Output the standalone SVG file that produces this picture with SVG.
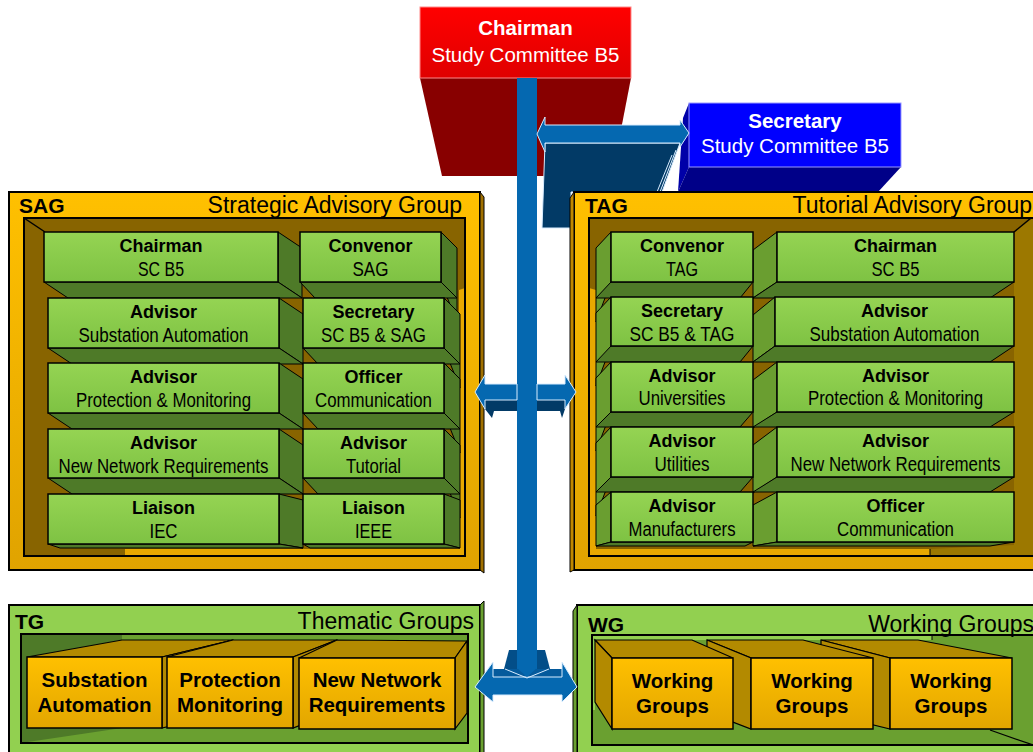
<svg xmlns="http://www.w3.org/2000/svg" width="1033" height="752" viewBox="0 0 1033 752">
<defs>
<linearGradient id="gOr" x1="0" y1="0" x2="0" y2="1"><stop offset="0" stop-color="#ffc000"/><stop offset="1" stop-color="#e0a300"/></linearGradient>
<linearGradient id="gGr" x1="0" y1="0" x2="0" y2="1"><stop offset="0" stop-color="#95d453"/><stop offset="1" stop-color="#7ec243"/></linearGradient>
<linearGradient id="gRed" x1="0" y1="0" x2="0" y2="1"><stop offset="0" stop-color="#ff0000"/><stop offset="1" stop-color="#e00000"/></linearGradient>
<linearGradient id="gBox" x1="0" y1="0" x2="0" y2="1"><stop offset="0" stop-color="#ffc000"/><stop offset="1" stop-color="#e2a600"/></linearGradient>
</defs>
<style>
.bt{font-family:"Liberation Sans",Arial,sans-serif;font-weight:bold;font-size:18px;text-anchor:middle;fill:#000}
.rt{font-family:"Liberation Sans",Arial,sans-serif;font-size:19.5px;text-anchor:middle;fill:#000}
.gb{fill:url(#gGr);stroke:#000;stroke-width:1.5}
.gd{fill:#4e7a28;stroke:#000;stroke-width:1}
.gm{fill:#6a9e30;stroke:#000;stroke-width:1}
.ttl{font-family:"Liberation Sans",Arial,sans-serif;font-size:23px;fill:#000}
.ttb{font-family:"Liberation Sans",Arial,sans-serif;font-size:21px;font-weight:bold;fill:#000}
.ob{fill:url(#gBox);stroke:#000;stroke-width:1.5}
.od{fill:#b38a00;stroke:#000;stroke-width:1.2}
.obt{font-family:"Liberation Sans",Arial,sans-serif;font-size:20.5px;font-weight:bold;text-anchor:middle;fill:#000}
.wt{font-family:"Liberation Sans",Arial,sans-serif;font-size:20.5px;text-anchor:middle;fill:#fff}
.wb{font-weight:bold}
.arr{fill:#0568b0;stroke:#d8ecff;stroke-width:1}
.arrd{fill:#023a66}
.fr{fill:none;stroke:#000;stroke-width:2}
</style>

<g id="chairman">
<polygon points="420,78 631,78 612,176 442,176" fill="#880000"/>
<rect x="420" y="7" width="211" height="71" fill="url(#gRed)" stroke="#ff8a8a"/>
<text class="wt wb" x="525.5" y="35">Chairman</text>
<text class="wt" x="525.5" y="62">Study Committee B5</text>
</g>

<g id="secretary">
<polygon points="689,103 683,118 678,192 689,167" fill="#0000a8"/>
<polygon points="689,167 901,167 878,192 678,192" fill="#000088"/>
<rect x="689" y="103" width="212" height="64" fill="#0000ff" stroke="#9a9aff"/>
<text class="wt wb" x="795" y="128">Secretary</text>
<text class="wt" x="795" y="153">Study Committee B5</text>
</g>

<g id="secretary-arrow-depth">
<polygon points="545,143 680,143 662,192 571,192 571,228 542,228" fill="#023a66" stroke="#d8ecff" stroke-width="1"/>
<line x1="676" y1="150" x2="660" y2="192" stroke="#d8ecff" stroke-width="1"/>
<line x1="672" y1="155" x2="657" y2="192" stroke="#d8ecff" stroke-width="1"/>
</g>

<g id="sag">
<rect x="9" y="192" width="471" height="378" fill="url(#gOr)" stroke="#000" stroke-width="2"/>
<polygon points="480,192 484,197 484,573 480,570" fill="#a07000" stroke="#000"/>
<rect x="24" y="218" width="441" height="338" fill="#886400"/>
<polygon points="459,290 465,288 465,556 125,556 125,549 459,549" fill="#e8a800"/>
<rect class="fr" x="24" y="218" width="441" height="338"/>
<line x1="24" y1="218" x2="45" y2="232" stroke="#000" stroke-width="1.5"/>
<text class="ttb" x="19" y="213">SAG</text>
<text class="ttl" x="462" y="213" text-anchor="end">Strategic Advisory Group</text>

<g id="sag-chairman">
<polygon class="gd" points="278,232 302,248 302,298 278,282"/>
<polygon class="gd" points="44,282 278,282 302,298 68,298"/>
<rect class="gb" x="44" y="232" width="234" height="50"/>
<text class="bt" x="161" y="252">Chairman</text>
<text class="rt" x="161" y="276" textLength="46" lengthAdjust="spacingAndGlyphs">SC B5</text>
</g>
<g id="sag-convenor">
<polygon class="gd" points="441,232 457,248 457,322 441,282"/>
<polygon class="gd" points="300,282 441,282 457,298 315,298"/>
<rect class="gb" x="300" y="232" width="141" height="50"/>
<text class="bt" x="370.5" y="252">Convenor</text>
<text class="rt" x="370.5" y="276" textLength="36" lengthAdjust="spacingAndGlyphs">SAG</text>
</g>
<g id="sag-advisor-sa">
<polygon class="gd" points="279,298 303,314 303,364 279,348"/>
<polygon class="gd" points="48,348 279,348 303,364 72,364"/>
<rect class="gb" x="48" y="298" width="231" height="50"/>
<text class="bt" x="163.5" y="318">Advisor</text>
<text class="rt" x="163.5" y="342" textLength="170" lengthAdjust="spacingAndGlyphs">Substation Automation</text>
</g>
<g id="sag-secretary">
<polygon class="gd" points="444,298 460,314 460,388 444,348"/>
<polygon class="gd" points="303,348 444,348 460,364 318,364"/>
<rect class="gb" x="303" y="298" width="141" height="50"/>
<text class="bt" x="373.5" y="318">Secretary</text>
<text class="rt" x="373.5" y="342" textLength="105" lengthAdjust="spacingAndGlyphs">SC B5 &amp; SAG</text>
</g>
<g id="sag-advisor-pm">
<polygon class="gd" points="279,363 303,379 303,429 279,413"/>
<polygon class="gd" points="48,413 279,413 303,429 72,429"/>
<rect class="gb" x="48" y="363" width="231" height="50"/>
<text class="bt" x="163.5" y="383">Advisor</text>
<text class="rt" x="163.5" y="407" textLength="175" lengthAdjust="spacingAndGlyphs">Protection &amp; Monitoring</text>
</g>
<g id="sag-officer">
<polygon class="gd" points="444,363 460,379 460,453 444,413"/>
<polygon class="gd" points="303,413 444,413 460,429 318,429"/>
<rect class="gb" x="303" y="363" width="141" height="50"/>
<text class="bt" x="373.5" y="383">Officer</text>
<text class="rt" x="373.5" y="407" textLength="117" lengthAdjust="spacingAndGlyphs">Communication</text>
</g>
<g id="sag-advisor-nnr">
<polygon class="gd" points="279,429 303,445 303,494 279,478"/>
<polygon class="gd" points="48,478 279,478 303,494 72,494"/>
<rect class="gb" x="48" y="429" width="231" height="49"/>
<text class="bt" x="163.5" y="449">Advisor</text>
<text class="rt" x="163.5" y="472.5" textLength="210" lengthAdjust="spacingAndGlyphs">New Network Requirements</text>
</g>
<g id="sag-advisor-tut">
<polygon class="gd" points="444,429 460,445 460,518 444,478"/>
<polygon class="gd" points="303,478 444,478 460,494 318,494"/>
<rect class="gb" x="303" y="429" width="141" height="49"/>
<text class="bt" x="373.5" y="449">Advisor</text>
<text class="rt" x="373.5" y="472.5" textLength="55" lengthAdjust="spacingAndGlyphs">Tutorial</text>
</g>
<g id="sag-liaison-iec">
<polygon class="gd" points="279,494 303,500 303,548 279,544"/>
<polygon class="gd" points="48,544 279,544 303,548 60,548"/>
<rect class="gb" x="48" y="494" width="231" height="50"/>
<text class="bt" x="163.5" y="514">Liaison</text>
<text class="rt" x="163.5" y="538" textLength="28" lengthAdjust="spacingAndGlyphs">IEC</text>
</g>
<g id="sag-liaison-ieee">
<polygon class="gd" points="444,494 460,500 460,548 444,544"/>
<polygon class="gd" points="303,544 444,544 460,548 310,548"/>
<rect class="gb" x="303" y="494" width="141" height="50"/>
<text class="bt" x="373.5" y="514">Liaison</text>
<text class="rt" x="373.5" y="538" textLength="37" lengthAdjust="spacingAndGlyphs">IEEE</text>
</g>
</g>

<g id="tag">
<rect x="574" y="192" width="462" height="378" fill="url(#gOr)" stroke="#000" stroke-width="2"/>
<polygon points="574,192 570,198 570,572 574,570" fill="#c08800" stroke="#000"/>
<rect x="589" y="218" width="446" height="338" fill="#886400"/>
<polygon points="589,288 596,290 596,549 930,549 930,556 589,556" fill="#e8a800"/>
<polygon points="1033,218 1035,218 1035,556 930,556 930,549 1014,545 1014,232" fill="#9c7800"/>
<rect class="fr" x="589" y="218" width="446" height="338"/>
<line x1="1031" y1="218" x2="1014" y2="232" stroke="#000" stroke-width="1.5"/>
<line x1="930" y1="549" x2="930" y2="556" stroke="#000" stroke-width="1"/>
<text class="ttb" x="585" y="213">TAG</text>
<text class="ttl" x="1032" y="213" text-anchor="end">Tutorial Advisory Group</text>

<g id="tag-chairman">
<polygon class="gm" points="777,232 753,250 753,298 777,282"/>
<polygon class="gd" points="777,282 1014,282 990,298 753,298"/>
<rect class="gb" x="777" y="232" width="237" height="50"/>
<text class="bt" x="895.5" y="252">Chairman</text>
<text class="rt" x="895.5" y="276" textLength="48" lengthAdjust="spacingAndGlyphs">SC B5</text>
</g>
<g id="tag-convenor">
<polygon class="gm" points="611,232 596,248 596,322 611,282"/>
<polygon class="gd" points="611,282 753,282 740,298 596,298"/>
<rect class="gb" x="611" y="232" width="142" height="50"/>
<text class="bt" x="682" y="252">Convenor</text>
<text class="rt" x="682" y="276" textLength="32" lengthAdjust="spacingAndGlyphs">TAG</text>
</g>
<g id="tag-advisor-sa">
<polygon class="gm" points="775,297 753,315 753,362 775,346"/>
<polygon class="gd" points="775,346 1014,346 990,362 753,362"/>
<rect class="gb" x="775" y="297" width="239" height="49"/>
<text class="bt" x="894.5" y="317">Advisor</text>
<text class="rt" x="894.5" y="340.5" textLength="170" lengthAdjust="spacingAndGlyphs">Substation Automation</text>
</g>
<g id="tag-secretary">
<polygon class="gm" points="611,297 596,313 596,386 611,346"/>
<polygon class="gd" points="611,346 753,346 740,362 596,362"/>
<rect class="gb" x="611" y="297" width="142" height="49"/>
<text class="bt" x="682" y="317">Secretary</text>
<text class="rt" x="682" y="340.5" textLength="105" lengthAdjust="spacingAndGlyphs">SC B5 &amp; TAG</text>
</g>
<g id="tag-advisor-pm">
<polygon class="gm" points="777,362 753,380 753,428 777,412"/>
<polygon class="gd" points="777,412 1014,412 990,427 753,427"/>
<rect class="gb" x="777" y="362" width="237" height="50"/>
<text class="bt" x="895.5" y="382">Advisor</text>
<text class="rt" x="895.5" y="405" textLength="175" lengthAdjust="spacingAndGlyphs">Protection &amp; Monitoring</text>
</g>
<g id="tag-advisor-uni">
<polygon class="gm" points="611,362 596,378 596,451 611,412"/>
<polygon class="gd" points="611,412 753,412 740,427 596,427"/>
<rect class="gb" x="611" y="362" width="142" height="50"/>
<text class="bt" x="682" y="382">Advisor</text>
<text class="rt" x="682" y="405" textLength="87" lengthAdjust="spacingAndGlyphs">Universities</text>
</g>
<g id="tag-advisor-nnr">
<polygon class="gm" points="777,427 753,445 753,493 777,477"/>
<polygon class="gd" points="777,477 1014,477 990,492 753,492"/>
<rect class="gb" x="777" y="427" width="237" height="50"/>
<text class="bt" x="895.5" y="447">Advisor</text>
<text class="rt" x="895.5" y="470.5" textLength="210" lengthAdjust="spacingAndGlyphs">New Network Requirements</text>
</g>
<g id="tag-advisor-util">
<polygon class="gm" points="611,427 596,443 596,516 611,477"/>
<polygon class="gd" points="611,477 753,477 740,492 596,492"/>
<rect class="gb" x="611" y="427" width="142" height="50"/>
<text class="bt" x="682" y="447">Advisor</text>
<text class="rt" x="682" y="470.5" textLength="55" lengthAdjust="spacingAndGlyphs">Utilities</text>
</g>
<g id="tag-officer">
<polygon class="gm" points="777,492 753,505 753,546 777,542"/>
<polygon class="gd" points="777,542 1014,542 990,546 753,546"/>
<rect class="gb" x="777" y="492" width="237" height="50"/>
<text class="bt" x="895.5" y="512">Officer</text>
<text class="rt" x="895.5" y="535.5" textLength="117" lengthAdjust="spacingAndGlyphs">Communication</text>
</g>
<g id="tag-advisor-man">
<polygon class="gm" points="611,492 596,505 596,546 611,542"/>
<polygon class="gd" points="611,542 753,542 745,546 596,546"/>
<rect class="gb" x="611" y="492" width="142" height="50"/>
<text class="bt" x="682" y="512">Advisor</text>
<text class="rt" x="682" y="535.5" textLength="107" lengthAdjust="spacingAndGlyphs">Manufacturers</text>
</g>
</g>

<g id="tg">
<rect x="9" y="605" width="471" height="152" fill="#92d050" stroke="#000" stroke-width="2"/>
<polygon points="480,605 484,601 484,755 480,755" fill="#6aa030" stroke="#000"/>
<rect x="21" y="634" width="447" height="109" fill="#6aa030"/>
<polygon points="21,634 122,634 122,640 27,657 27,728 122,728 21,743" fill="#4e7a28"/>
<rect class="fr" x="21" y="634" width="447" height="109"/>
<text class="ttb" x="15" y="629">TG</text>
<text class="ttl" x="474" y="629" text-anchor="end">Thematic Groups</text>
<g id="tg-sa">
<polygon class="od" points="27,657 162,657 233,640 122,640"/>
<polygon class="od" points="162,657 233,640 233,711 162,728"/>
<rect class="ob" x="27" y="657" width="135" height="71"/>
<text class="obt" x="94.5" y="687">Substation</text>
<text class="obt" x="94.5" y="712">Automation</text>
</g>
<g id="tg-pm">
<polygon class="od" points="167,657 293,657 337,640 233,640"/>
<polygon class="od" points="293,657 337,640 337,711 293,728"/>
<rect class="ob" x="167" y="657" width="126" height="71"/>
<text class="obt" x="230" y="687">Protection</text>
<text class="obt" x="230" y="712">Monitoring</text>
</g>
<g id="tg-nnr">
<polygon class="od" points="299,658 455,658 467,641 337,640"/>
<polygon class="od" points="455,658 467,641 467,713 455,729"/>
<rect class="ob" x="299" y="658" width="156" height="71"/>
<text class="obt" x="377" y="687">New Network</text>
<text class="obt" x="377" y="712">Requirements</text>
</g>
</g>

<g id="wg">
<rect x="577" y="605" width="460" height="152" fill="#92d050" stroke="#000" stroke-width="2"/>
<polygon points="577,605 573,611 573,755 577,755" fill="#6aa030" stroke="#000"/>
<rect x="592" y="635" width="445" height="110" fill="#6aa030"/>
<polygon points="592,635 932,635 932,640 595,640 595,710 592,710" fill="#92d050"/>
<line x1="932" y1="635" x2="932" y2="640" stroke="#000"/>
<line x1="990" y1="730" x2="1033" y2="745" stroke="#000" stroke-width="1.2"/>
<rect class="fr" x="592" y="635" width="445" height="110"/>
<text class="ttb" x="588" y="632">WG</text>
<text class="ttl" x="1034" y="632" text-anchor="end">Working Groups</text>
<g id="wg-3">
<polygon class="od" points="821,640 918,640 1012,658 890,658"/>
<polygon class="od" points="821,640 890,658 890,729 821,712"/>
<rect class="ob" x="890" y="658" width="122" height="71"/>
<text class="obt" x="951" y="688">Working</text>
<text class="obt" x="951" y="713">Groups</text>
</g>
<g id="wg-2">
<polygon class="od" points="707,640 803,640 873,658 751,658"/>
<polygon class="od" points="707,640 751,658 751,729 707,712"/>
<rect class="ob" x="751" y="658" width="122" height="71"/>
<text class="obt" x="812" y="688">Working</text>
<text class="obt" x="812" y="713">Groups</text>
</g>
<g id="wg-1">
<polygon class="od" points="595,640 692,640 733,658 612,658"/>
<polygon class="od" points="595,640 612,658 612,729 595,702"/>
<rect class="ob" x="612" y="658" width="121" height="71"/>
<text class="obt" x="672.5" y="688">Working</text>
<text class="obt" x="672.5" y="713">Groups</text>
</g>
</g>

<g id="connectors">
<rect x="517" y="78" width="20" height="591" fill="#0568b0"/>
<polygon class="arr" points="537,134 545,117 545,125 680,125 680,120 689,133 680,147 680,143 545,143 545,152"/>
<polygon class="arrd" points="485,400 517,400 517,411 494,411 492,418 485,409"/>
<polygon class="arr" points="475,392 485,375 485,384 517,384 517,400 485,400 485,409"/>
<polygon class="arrd" points="537,400 565,400 565,409 562,418 560,411 537,411"/>
<polygon class="arr" points="576,392 565,375 565,384 537,384 537,400 565,400 565,409"/>
<polygon points="509,650 517,650 517,669 504,669" fill="#034e88"/>
<polygon points="537,650 545,650 550,669 537,669" fill="#034e88"/>
<polygon points="493,669 562,669 562,677 493,677" fill="#045a9c"/>
<polygon class="arr" points="475,687 493,662 493,677 562,677 562,662 577,687 562,702 562,695 493,695 493,702"/>
<polygon points="517,668 537,668 527,677" fill="#0568b0"/>
<polyline points="505,669 527,678 549,669" fill="none" stroke="#d8ecff" stroke-width="1"/>
</g>
</svg>
